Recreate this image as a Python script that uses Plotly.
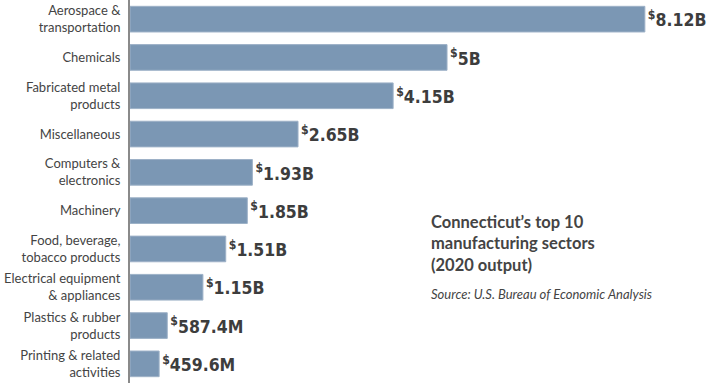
import plotly.graph_objects as go

categories = [
    "Aerospace &<br>transportation",
    "Chemicals",
    "Fabricated metal<br>products",
    "Miscellaneous",
    "Computers &<br>electronics",
    "Machinery",
    "Food, beverage,<br>tobacco products",
    "Electrical equipment<br>& appliances",
    "Plastics & rubber<br>products",
    "Printing & related<br>activities",
]
values_billion = [8.12, 5.0, 4.15, 2.65, 1.93, 1.85, 1.51, 1.15, 0.5874, 0.4596]
value_labels = ["8.12B", "5B", "4.15B", "2.65B", "1.93B", "1.85B", "1.51B", "1.15B", "587.4M", "459.6M"]

fig = go.Figure()
fig.add_trace(go.Bar(
    y=categories,
    x=values_billion,
    orientation="h",
    marker=dict(color="#7b97b4", line=dict(color="#9db1c7", width=1)),
    text=["<sup>$</sup>" + t for t in value_labels],
    textposition="outside",
    textfont=dict(family="DejaVu Sans Condensed", size=17.5, color="#3d3d3d", weight="bold"),
    cliponaxis=False,
    hoverinfo="skip",
))

fig.update_layout(
    width=720, height=383,
    margin=dict(l=130, r=0, t=0, b=0, autoexpand=False),
    paper_bgcolor="white", plot_bgcolor="white",
    bargap=0.33,
    showlegend=False,
    font=dict(family="Lato", color="#444444"),
    xaxis=dict(range=[0, 9.305], visible=False, showgrid=False, zeroline=False, automargin=False),
    yaxis=dict(
        autorange="reversed", showgrid=False, zeroline=False, automargin=False,
        showline=True, linecolor="#8a8a8a", linewidth=2,
        ticks="", ticklabelstandoff=5,
        tickfont=dict(family="Lato", size=13, color="#444444"),
    ),
    annotations=[
        dict(text="<b>Connecticut’s top 10<br>manufacturing sectors<br>(2020 output)</b>",
             xref="paper", yref="paper", x=(429 - 130) / 590, y=1 - 210 / 383,
             xanchor="left", yanchor="top", align="left", showarrow=False,
             font=dict(family="Lato", size=16.5, color="#444444")),
        dict(text="<i>Source: U.S. Bureau of Economic Analysis</i>",
             xref="paper", yref="paper", x=(429 - 130) / 590, y=1 - 284 / 383,
             xanchor="left", yanchor="top", align="left", showarrow=False,
             font=dict(family="Lato", size=13, color="#444444")),
    ],
)

fig.write_html("out.html", config={"displayModeBar": False},
               post_script="document.body.style.margin='0';document.body.style.overflow='hidden';")
